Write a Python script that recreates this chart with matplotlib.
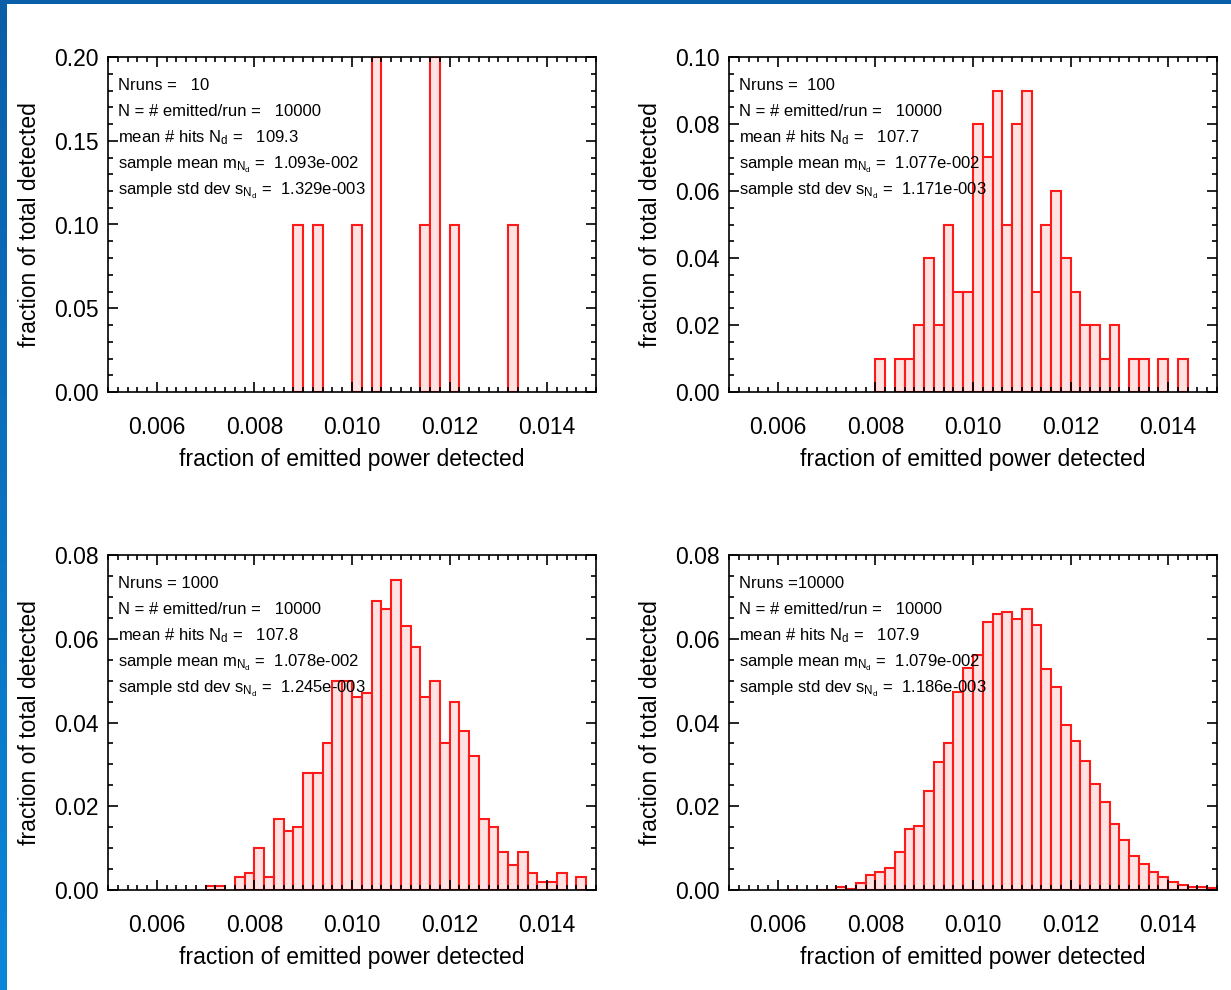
import numpy as np
import matplotlib
matplotlib.use('Agg')
import matplotlib.pyplot as plt
from matplotlib.ticker import MultipleLocator, FormatStrFormatter

plt.rcParams['font.family'] = ['Liberation Sans', 'DejaVu Sans']
plt.rcParams['mathtext.fontset'] = 'custom'
plt.rcParams['mathtext.rm'] = 'Liberation Sans'
plt.rcParams['mathtext.it'] = 'Liberation Sans'

bin_width = 0.0002

# histogram values (fraction of runs per bin)
start_10 = 0.0088
frac_10 = [0.1, 0, 0.1, 0, 0, 0, 0.1, 0, 0.2, 0, 0, 0, 0, 0.1, 0.2, 0, 0.1,
           0, 0, 0, 0, 0, 0.1]

start_100 = 0.0080
frac_100 = [0.01, 0, 0.01, 0.01, 0.02, 0.04, 0.02, 0.05, 0.03, 0.03, 0.08, 0.07,
            0.09, 0.05, 0.08, 0.09, 0.03, 0.05, 0.06, 0.04, 0.03, 0.02, 0.02,
            0.01, 0.02, 0, 0.01, 0.01, 0, 0.01, 0, 0.01]

start_1000 = 0.0070
frac_1000 = [0.001, 0.001, 0, 0.003, 0.004, 0.010, 0.003, 0.017, 0.014, 0.015,
             0.028, 0.028, 0.035, 0.050, 0.050, 0.046, 0.047, 0.069, 0.067,
             0.074, 0.063, 0.058, 0.046, 0.050, 0.035, 0.045, 0.038, 0.032,
             0.017, 0.015, 0.009, 0.006, 0.009, 0.004, 0.002, 0.002, 0.004,
             0, 0.003]

start_10000 = 0.0062
frac_10000 = [0.0001, 0, 0, 0.0001, 0.0001, 0.0008, 0.0002, 0.0017, 0.0036,
              0.0044, 0.0052, 0.0091, 0.0146, 0.0153, 0.0236, 0.0305, 0.0352,
              0.0472, 0.0529, 0.0561, 0.0639, 0.0660, 0.0665, 0.0648, 0.0672,
              0.0632, 0.0528, 0.0484, 0.0394, 0.0357, 0.0307, 0.0254, 0.0211,
              0.0158, 0.0120, 0.0082, 0.0063, 0.0042, 0.0031, 0.0018, 0.0012,
              0.0006, 0.0006, 0.0004]

nruns_txt = ['Nruns =   10', 'Nruns =  100', 'Nruns = 1000', 'Nruns =10000']
mean_hits = ['109.3', '107.7', '107.8', '107.9']
sample_mean = ['1.093e-002', '1.077e-002', '1.078e-002', '1.079e-002']
sample_std = ['1.329e-003', '1.171e-003', '1.245e-003', '1.186e-003']

panels = [
    (start_10, frac_10, 0.20, 0.05, 0.01),
    (start_100, frac_100, 0.10, 0.02, 0.005),
    (start_1000, frac_1000, 0.08, 0.02, 0.005),
    (start_10000, frac_10000, 0.08, 0.02, 0.005),
]

W, H = 1231, 990
fig = plt.figure(figsize=(W / 100, H / 100), dpi=100)

# blue frame on the left and top edge
band = fig.add_axes([0, 0, 7 / W, 1])
band.imshow(np.linspace(0, 1, 100).reshape(-1, 1), cmap=matplotlib.colors.LinearSegmentedColormap.from_list('b', ['#0b5ea8', '#0a86d8']),
            aspect='auto', extent=[0, 1, 0, 1])
band.axis('off')
top = fig.add_axes([0, 1 - 4 / H, 1, 4 / H])
top.set_facecolor('#0b5ea8')
top.set_xticks([])
top.set_yticks([])
for s in top.spines.values():
    s.set_visible(False)

boxes = [(108, 57), (729, 57), (108, 555), (729, 555)]
ax_w, ax_h = 488, 335

for i, (start, frac, ymax, ymaj, ymin) in enumerate(panels):
    x0, y0 = boxes[i]
    ax = fig.add_axes([x0 / W, 1 - (y0 + ax_h) / H, ax_w / W, ax_h / H])
    frac = np.array(frac)
    edges = start + bin_width * np.arange(len(frac))
    keep = frac > 0
    ax.bar(edges[keep], frac[keep], width=bin_width, align='edge',
           color='#ffe3e3', edgecolor='#ff1a1a', linewidth=1.5)
    ax.set_xlim(0.005, 0.015)
    ax.set_ylim(0, ymax)
    ax.xaxis.set_major_locator(MultipleLocator(0.002))
    ax.xaxis.set_minor_locator(MultipleLocator(0.0002))
    ax.yaxis.set_major_locator(MultipleLocator(ymaj))
    ax.yaxis.set_minor_locator(MultipleLocator(ymin))
    ax.xaxis.set_major_formatter(FormatStrFormatter('%.3f'))
    ax.yaxis.set_major_formatter(FormatStrFormatter('%.2f'))
    ax.tick_params(which='both', direction='in', top=True, right=True, width=1.2)
    ax.tick_params(which='major', length=7, labelsize=16.5)
    ax.tick_params(which='minor', length=3.5)
    ax.tick_params(axis='x', which='major', pad=17)
    ax.tick_params(axis='y', which='major', pad=7)
    for s in ax.spines.values():
        s.set_linewidth(1.2)
    ax.set_xlabel('fraction of emitted power detected', fontsize=16.5, labelpad=7)
    ax.set_ylabel('fraction of total detected', fontsize=16.5, labelpad=9)

    lines = [
        nruns_txt[i],
        'N = # emitted/run =   10000',
        r'mean # hits N$_{\mathrm{d}}$ =   ' + mean_hits[i],
        r'sample mean m$_{\mathrm{N_d}}$ =  ' + sample_mean[i],
        r'sample std dev s$_{\mathrm{N_d}}$ =  ' + sample_std[i],
    ]
    for k, t in enumerate(lines):
        ax.text(10 / ax_w, 1 - (28 + 26.5 * k) / ax_h, t, transform=ax.transAxes,
                fontsize=12, va='center', ha='left')

fig.savefig('out.png', dpi=100)
